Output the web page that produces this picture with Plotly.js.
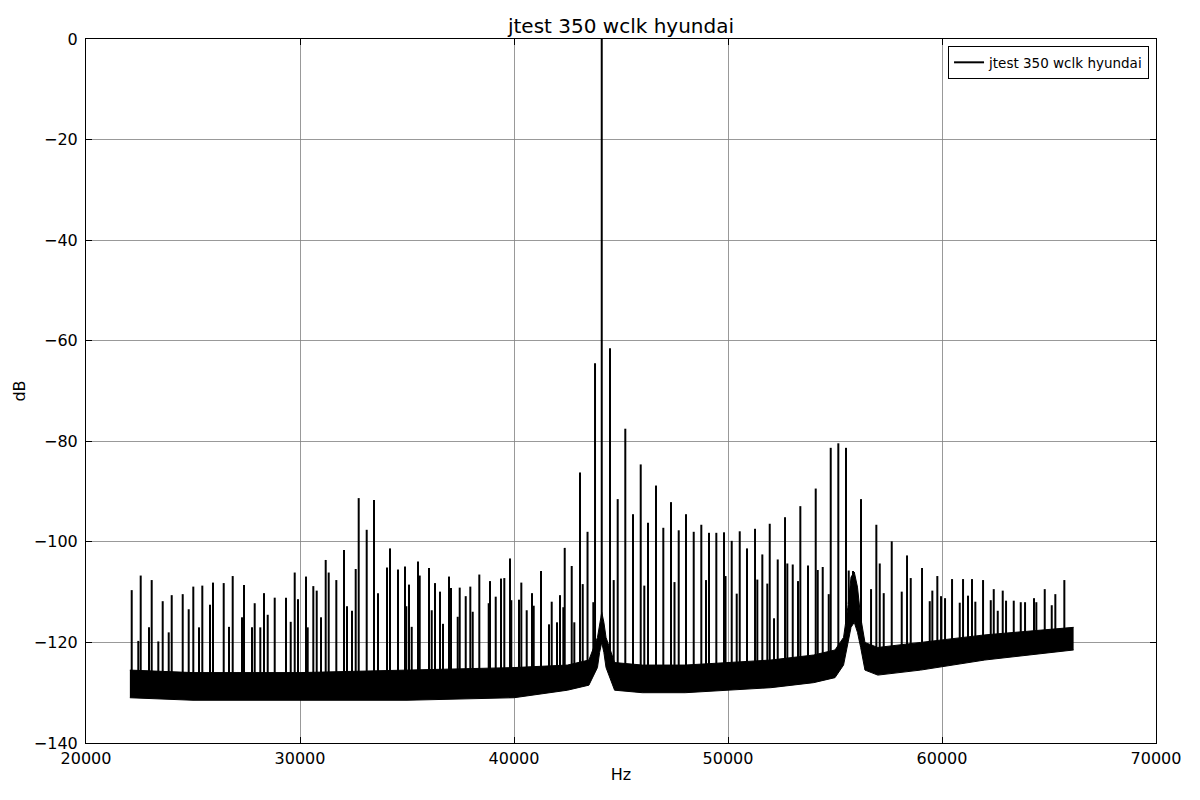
<!DOCTYPE html>
<html>
<head>
<meta charset="utf-8">
<script src="https://cdn.plot.ly/plotly-3.0.1.min.js"></script>
<style>html,body{margin:0;padding:0;background:#fff;}#chart{width:1200px;height:800px;}</style>
</head>
<body>
<div id="chart"></div>
<script>
// Spectral lines (Hz) and their peak levels (dB)
var spikeHz = [22136,22444,22556,22944,23070,23379,23584,23865,24005,24519,24799,25014,25280,25435,25795,25935,26435,26683,26855,27290,27383,27757,27883,28145,28318,28491,28818,29346,29566,29753,29907,30281,30360,30622,30781,30982,31201,31341,31697,32056,32197,32430,32603,32743,33117,33458,33645,34066,34206,34580,34907,34968,35094,35220,35514,35594,36028,36155,36309,36543,36683,36963,37056,37370,37463,37744,37959,38071,38379,38818,38879,39146,39393,39547,39814,39874,40234,40342,40594,40842,40921,41262,41636,41762,42010,42150,42305,42370,42697,42818,43085,43211,43436,43707,43786,44100,44486,44659,44846,45201,45561,45921,46089,46262,46636,46977,47337,47500,47697,48038,48398,48753,48973,49113,49454,49814,49884,50174,50407,50548,50889,51263,51370,51604,51838,51950,52151,52324,52665,52772,53025,53272,53380,53739,54099,54193,54426,54707,54800,55155,55515,55641,55842,56216,56684,56932,57091,57277,57651,58118,58366,58539,59067,59427,59548,59782,59955,60142,60469,60829,60983,61216,61403,61558,61918,62278,62418,62605,62838,62993,63353,63680,63881,64300,64408,64801,65128,65296,65717];
var spikeDb = [-109.6,-119.7,-106.7,-117,-107.6,-119.8,-111.8,-118,-110.6,-110.4,-113.4,-108.9,-117,-108.7,-112.5,-108.1,-108.2,-116.9,-106.8,-115,-108.6,-117,-112.2,-117,-110.2,-114.5,-111.1,-111.1,-115.9,-106.1,-111.4,-106.9,-117,-108.8,-109.7,-115,-103.6,-106.1,-107.6,-101.6,-112.8,-113.7,-105.4,-91.3,-97.6,-91.7,-110.2,-105.1,-101.3,-105.5,-104.9,-112.8,-108.5,-116.9,-103.9,-106.7,-105.2,-113.6,-108.2,-109.9,-116.3,-106.9,-109.2,-114.9,-109.1,-110.8,-108.9,-113.9,-106.5,-112.2,-107.8,-110.9,-107.3,-107.2,-103.3,-111.6,-111.5,-108.1,-113.6,-110.2,-112.7,-105.8,-116.4,-111.9,-116,-110.6,-113,-101.2,-104.8,-116,-86.2,-108.4,-98,-112,-64.5,0,-61.5,-107.6,-91.5,-77.5,-94.5,-84.6,-108.7,-96.2,-88.8,-97.2,-92.1,-108,-97.7,-94.5,-98,-96.6,-107.6,-98.2,-98.2,-98.1,-106.8,-99.8,-110.3,-97.9,-101.3,-97.4,-107.5,-102.5,-108.3,-96.4,-115.2,-103.5,-95.1,-104.3,-104.5,-107.8,-92.9,-104.7,-89.4,-105.6,-105,-110.4,-81.3,-80.4,-81.3,-105.7,-105.8,-91.5,-109.4,-96.6,-104.3,-110.2,-99.9,-109.9,-102.7,-107.2,-105.2,-111.8,-109.7,-106.8,-110.8,-111.2,-107.4,-112.1,-107.4,-110.7,-107.4,-111.9,-107.6,-111.6,-109.4,-113.7,-109.7,-111.7,-111.7,-112,-112,-111.2,-112,-109.4,-112.6,-110.4,-107.6];

// Noise floor envelope (Hz, upper dB, lower dB)
var floorHz    = [22050,25000,30000,35000,40000,42500,43500,43900,44000,44100,44200,44300,44700,46000,48000,50000,52000,54000,55000,55400,55600,55750,55900,56050,56200,56400,57000,59000,62000,66150];
var floorUpper = [-125.5,-126,-126,-125.5,-125,-124.5,-123.5,-119,-116,-114,-116,-119,-124,-124.5,-124.5,-124,-123.5,-122.5,-121.5,-119,-113,-107,-106,-109,-115,-120,-121,-120,-118.5,-117];
var floorLower = [-131,-131.5,-131.5,-131.5,-131,-129.5,-128.5,-125,-122,-120,-122,-125,-129.5,-130,-130,-129.5,-129,-128,-127,-124.5,-120,-117,-116,-118,-121,-125.5,-126.5,-125.5,-123.5,-121.5];

var xTicks = [20000,30000,40000,50000,60000,70000];
var yTicks = [-140,-120,-100,-80,-60,-40,-20,0];
var seriesName = 'jtest 350 wclk hyundai';

function envAt(f){
  for (var i=0;i<floorHz.length-1;i++){
    if (f>=floorHz[i] && f<=floorHz[i+1]){
      var t=(f-floorHz[i])/(floorHz[i+1]-floorHz[i]);
      return floorUpper[i]+t*(floorUpper[i+1]-floorUpper[i]);
    }
  }
  return floorUpper[floorUpper.length-1];
}

var sx=[], sy=[];
for (var i=0;i<spikeHz.length;i++){
  sx.push(spikeHz[i], spikeHz[i], null);
  sy.push(envAt(spikeHz[i])-1, spikeDb[i], null);
}

var traces = [
  {x: floorHz, y: floorLower, mode:'lines', line:{color:'#000', width:1}, showlegend:false, hoverinfo:'skip'},
  {x: floorHz, y: floorUpper, mode:'lines', line:{color:'#000', width:1}, fill:'tonexty', fillcolor:'#000', showlegend:false, hoverinfo:'skip'},
  {x: sx, y: sy, mode:'lines', line:{color:'#000', width:2}, name: seriesName, showlegend:true, connectgaps:false}
];

var axisCommon = {
  showline:true, linecolor:'#000', linewidth:1, mirror:'ticks',
  ticks:'inside', ticklen:6, tickcolor:'#000',
  showgrid:true, gridcolor:'#7f7f7f', gridwidth:0.8,
  zeroline:false, tickfont:{family:'DejaVu Sans', size:16, color:'#000'}
};

var layout = {
  width:1200, height:800,
  paper_bgcolor:'#fff', plot_bgcolor:'#fff',
  margin:{l:86, r:44, t:39, b:57},
  font:{family:'DejaVu Sans', color:'#000'},
  title:{text:'jtest 350 wclk hyundai', font:{family:'DejaVu Sans', size:20, color:'#000'}, x:0.5175, xanchor:'center', y:0.967, yanchor:'middle', yref:'container'},
  xaxis: Object.assign({}, axisCommon, {range:[20000,70000], tickvals:xTicks, ticktext:xTicks.map(String), ticklabelstandoff:1, title:{text:'Hz', font:{size:16}, standoff:1}}),
  yaxis: Object.assign({}, axisCommon, {range:[-140,0], tickvals:yTicks, ticklabelstandoff:4, title:{text:'dB', font:{size:16}, standoff:4}}),
  legend:{x:0.9935, xanchor:'right', y:0.99, yanchor:'top', bgcolor:'#fff', bordercolor:'#000', borderwidth:1, itemwidth:30, font:{family:'DejaVu Sans', size:13.5, color:'#000'}},
  showlegend:true
};

Plotly.newPlot('chart', traces, layout, {displayModeBar:false, staticPlot:true});
</script>
</body>
</html>
